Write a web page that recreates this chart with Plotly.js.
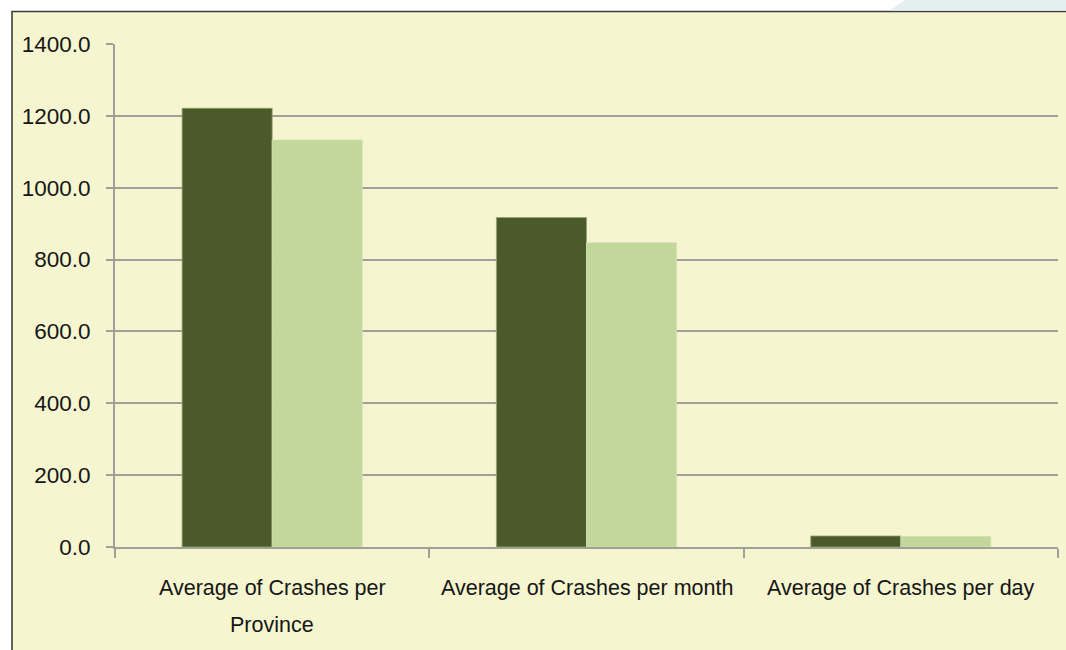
<!DOCTYPE html>
<html>
<head>
<meta charset="utf-8">
<script src="https://cdn.plot.ly/plotly-3.0.1.min.js"></script>
<style>html,body{margin:0;padding:0;background:#fff;}#chart{width:1066px;height:650px;}</style>
</head>
<body>
<div id="chart"></div>
<script>
// ---- data ----
const categories = [
  "Average of Crashes per Province",
  "Average of Crashes per month",
  "Average of Crashes per day"
];
const labelLines = [
  ["Average of Crashes per", "Province"],
  ["Average of Crashes per month"],
  ["Average of Crashes per day"]
];
const seriesA = [1221, 917, 30.6];
const seriesB = [1133, 847, 29.6];
const yTickVals = [0, 200, 400, 600, 800, 1000, 1200, 1400];

// ---- layout helpers ----
const W = 1066, H = 650;
const M = {l: 115, r: 8, t: 44, b: 103};
const pw = W - M.l - M.r, ph = H - M.t - M.b;
const xp = px => (px - M.l) / pw;
const yp = py => (H - M.b - py) / ph;

const FONT = '"Liberation Sans", Arial, sans-serif';
const FS = 21.5;
const TXT = '#161616';
const GRID = '#a09f98';

const traces = [
  {type: 'bar', x: categories, y: seriesA, name: 'A',
   marker: {color: '#4a5a2a', line: {color: '#93a36e', width: 0.8}}},
  {type: 'bar', x: categories, y: seriesB, name: 'B',
   marker: {color: '#c3d69b', line: {color: '#d3e2b2', width: 0.8}}}
];

const annotations = [];
categories.forEach((c, i) => {
  labelLines[i].forEach((line, j) => {
    annotations.push({
      x: c, xref: 'x', y: yp(588 + j * 36.5), yref: 'paper',
      text: line, showarrow: false, xanchor: 'center', yanchor: 'middle',
      font: {family: FONT, size: FS, color: TXT}
    });
  });
});

const shapes = [
  // chart area background with border
  {type: 'rect', xref: 'paper', yref: 'paper', layer: 'below',
   x0: xp(12), x1: xp(W + 20), y0: yp(H + 20), y1: yp(11.5),
   fillcolor: '#f5f5cf', line: {color: '#3c3c3c', width: 1.6}},
  // slide decoration top right
  {type: 'path', xref: 'paper', yref: 'paper', layer: 'below',
   path: `M ${xp(890)} ${yp(10.5)} L ${xp(905)} ${yp(0)} L ${xp(W)} ${yp(0)} L ${xp(W)} ${yp(10.5)} Z`,
   fillcolor: '#e4f0f0', line: {width: 0}}
];

const layout = {
  width: W, height: H,
  margin: M,
  paper_bgcolor: '#ffffff',
  plot_bgcolor: 'rgba(0,0,0,0)',
  showlegend: false,
  barmode: 'group',
  bargap: 0.427,
  bargroupgap: 0,
  xaxis: {
    type: 'category',
    showticklabels: false,
    ticks: 'outside', ticklen: 9, tickwidth: 2, tickcolor: GRID,
    tickson: 'boundaries',
    showline: true, linecolor: GRID, linewidth: 2,
    showgrid: false, zeroline: false
  },
  yaxis: {
    range: [0, 1400],
    tickvals: yTickVals,
    ticktext: yTickVals.map(v => v.toFixed(1)),
    ticks: 'outside', ticklen: 7, tickwidth: 2, tickcolor: GRID,
    ticklabelstandoff: 11,
    showline: true, linecolor: GRID, linewidth: 2,
    showgrid: true, gridcolor: GRID, gridwidth: 2,
    zeroline: false,
    tickfont: {family: FONT, size: 22.5, color: TXT}
  },
  annotations: annotations,
  shapes: shapes
};

Plotly.newPlot('chart', traces, layout, {displayModeBar: false, staticPlot: true});
</script>
</body>
</html>
